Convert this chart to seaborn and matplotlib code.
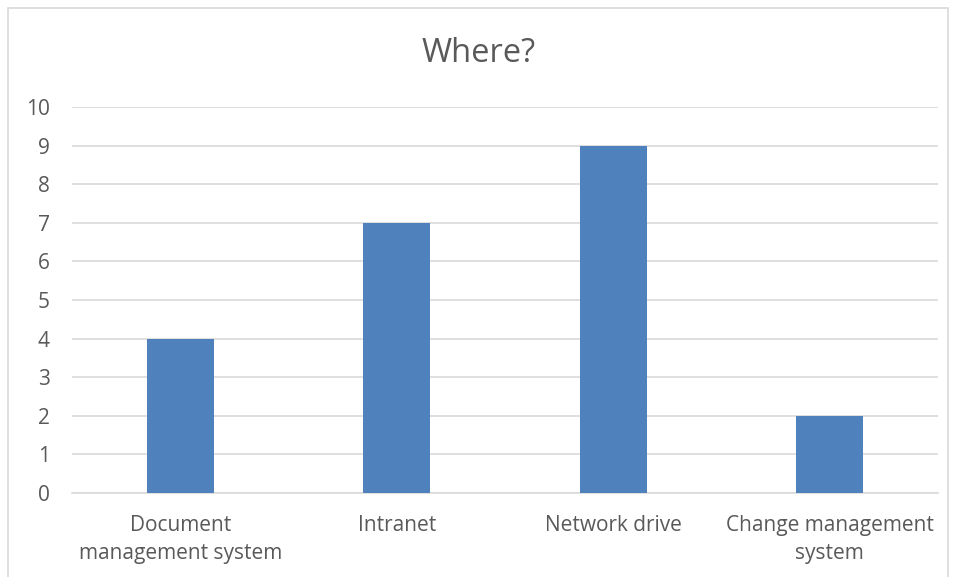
import matplotlib
matplotlib.use("Agg")
import matplotlib.pyplot as plt
import seaborn as sns
import pandas as pd
from matplotlib.patches import Rectangle

categories = ["Document\nmanagement system", "Intranet", "Network drive", "Change management\nsystem"]
counts = [4, 7, 9, 2]
y_ticks = list(range(0, 11))

df = pd.DataFrame({"Where": categories, "Count": counts})

sns.set_style("white")
plt.rcParams["font.family"] = ["Open Sans", "DejaVu Sans"]
text_color = "#595959"
grid_color = "#D9D9D9"

fig = plt.figure(figsize=(9.57, 5.77), dpi=100)
ax = fig.add_axes([72 / 957, 1 - 493 / 577, (938 - 72) / 957, (493 - 107) / 577])

sns.barplot(data=df, x="Where", y="Count", color="#4F81BD", width=0.31, saturation=1,
            edgecolor="none", linewidth=0, ax=ax, zorder=3)

ax.set_ylim(0, 10)
ax.set_yticks(y_ticks)
ax.yaxis.grid(True, color=grid_color, linewidth=1.2, zorder=0)
ax.set_axisbelow(True)
for side in ["top", "right", "left"]:
    ax.spines[side].set_visible(False)
ax.spines["bottom"].set_color(grid_color)
ax.spines["bottom"].set_linewidth(1.2)
ax.tick_params(axis="y", length=0, pad=16, labelsize=15, labelcolor=text_color)
ax.tick_params(axis="x", length=0, pad=16, labelsize=15, labelcolor=text_color)
for lbl in ax.get_xticklabels():
    lbl.set_linespacing(1.45)
ax.set_xlabel("")
ax.set_ylabel("")

fig.text(0.5, 1 - 54 / 577, "Where?", ha="center", va="center", fontsize=23.5, color=text_color)

# chart border
fig.patches.append(Rectangle((8 / 957, -0.05), 940 / 957, 1.05 - 8 / 577, transform=fig.transFigure,
                             fill=False, edgecolor=grid_color, linewidth=1.2))

fig.savefig("out.png", dpi=100)
plt.close(fig)
